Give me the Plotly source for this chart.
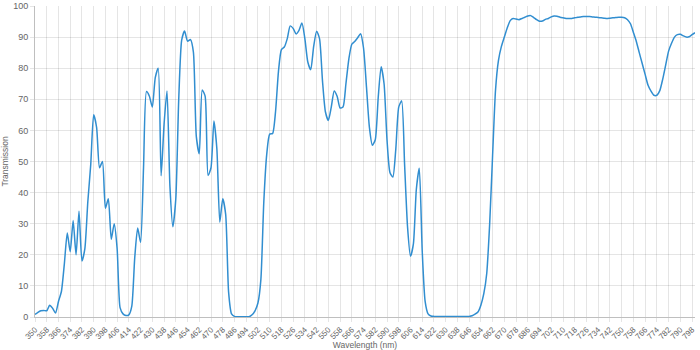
import plotly.graph_objects as go

wavelength_start = 350
wavelength_step = 2
transmission = [
    0.8, 1.5, 2.0, 2.1, 2.0, 3.8, 2.8, 1.3, 5.0, 8.2,          # 350-368
    17, 27, 21, 31, 20, 34, 18, 22, 37, 49,                     # 370-388
    65, 61, 48, 50, 35, 38, 25, 30, 22, 3,                      # 390-408
    1.0, 0.5, 0.7, 3.5, 19, 28.6, 24, 48, 72.5, 71,             # 410-428
    67.5, 77, 80, 45.4, 62, 72.7, 42, 29, 38, 70,               # 430-448
    89, 92, 88.7, 89.2, 85.2, 58, 52.5, 73, 71, 45.5,           # 450-468
    48, 63, 54, 30.5, 38, 33, 8, 1, 0.2, 0.1,                   # 470-488
    0.1, 0.1, 0.1, 0.1, 0.7, 2.0, 4.5, 12, 37, 52.3,            # 490-508
    58.8, 59, 66, 79, 86, 86.8, 89.5, 93.6, 92.8, 91,           # 510-528
    92.2, 94.5, 89.5, 82, 79.5, 87, 91.9, 89.5, 76, 66,         # 530-548
    63.2, 67.5, 72.7, 71, 67.2, 67.5, 75, 83, 87.7, 88.6,       # 550-568
    89.8, 91.1, 86.5, 74, 61, 55.2, 57, 70.5, 80.5, 75,         # 570-588
    57, 46.5, 45, 54, 67.5, 69.5, 49, 29, 19.5, 23.5,           # 590-608
    41, 47.8, 21.4, 5, 1, 0.3, 0.2, 0.2, 0.2, 0.2,              # 610-628
    0.2, 0.2, 0.2, 0.2, 0.2, 0.2, 0.2, 0.2, 0.2, 0.4,           # 630-648
    0.9, 1.6, 3.8, 7.5, 14, 30, 52, 73, 82.5, 87,               # 650-668
    90, 93, 95.3, 96, 95.8, 95.6, 96, 96.4, 96.8, 96.9,         # 670-688
    96.3, 95.6, 95.1, 95.2, 95.7, 96, 96.5, 96.8, 96.7, 96.4,   # 690-708
    96.2, 96, 96, 96, 96.2, 96.4, 96.5, 96.6, 96.6, 96.6,       # 710-728
    96.5, 96.4, 96.3, 96.2, 96.1, 96, 96.1, 96.2, 96.3, 96.4,   # 730-748
    96.4, 96.2, 95.6, 94.3, 91.5, 88.6, 85, 81.5, 78, 74.5,     # 750-768
    72.6, 71.3, 71.3, 72.8, 76.5, 81, 85.5, 88, 90, 90.8,       # 770-788
    90.9, 90.4, 90, 90.1, 90.8, 91.4,                           # 790-800
]
wavelengths = [wavelength_start + i * wavelength_step for i in range(len(transmission))]
tick_labels = list(range(350, 800, 8))
y_ticks = list(range(0, 101, 10))

font_family = "Liberation Sans, Arial, Helvetica, sans-serif"
grid_color = "rgba(0,0,0,0.1)"

fig = go.Figure()
fig.add_trace(go.Scatter(
    x=wavelengths, y=transmission, mode="lines",
    line=dict(color="#318ed0", width=1.5, shape="spline", smoothing=0.6),
    hoverinfo="x+y", showlegend=False,
))

fig.update_layout(
    width=700, height=350,
    margin=dict(l=35, r=5, t=6, b=33, autoexpand=False),
    paper_bgcolor="white", plot_bgcolor="white",
    font=dict(family=font_family, size=9, color="#666"),
    xaxis=dict(
        range=[350, 800], tickmode="array", tickvals=tick_labels,
        ticktext=[str(v) for v in tick_labels], tickangle=-45,
        showgrid=True, gridcolor=grid_color, gridwidth=1,
        ticks="outside", ticklen=4, tickcolor=grid_color,
        showline=True, linecolor="rgba(0,0,0,0.25)", linewidth=1,
        zeroline=False, automargin=False,
        title=dict(text="Wavelength (nm)", font=dict(size=8.5, color="#666"), standoff=2),
        tickfont=dict(size=8, color="#666"),
    ),
    yaxis=dict(
        range=[0, 100], tickmode="array", tickvals=y_ticks,
        ticktext=[str(v) for v in y_ticks],
        showgrid=True, gridcolor=grid_color, gridwidth=1,
        ticks="outside", ticklen=4, tickcolor=grid_color,
        showline=True, linecolor="rgba(0,0,0,0.25)", linewidth=1,
        zeroline=False, automargin=False,
        title=dict(text="Transmission", font=dict(size=8.5, color="#666"), standoff=4),
        tickfont=dict(size=9, color="#666"),
    ),
)

fig.write_html("out.html")
